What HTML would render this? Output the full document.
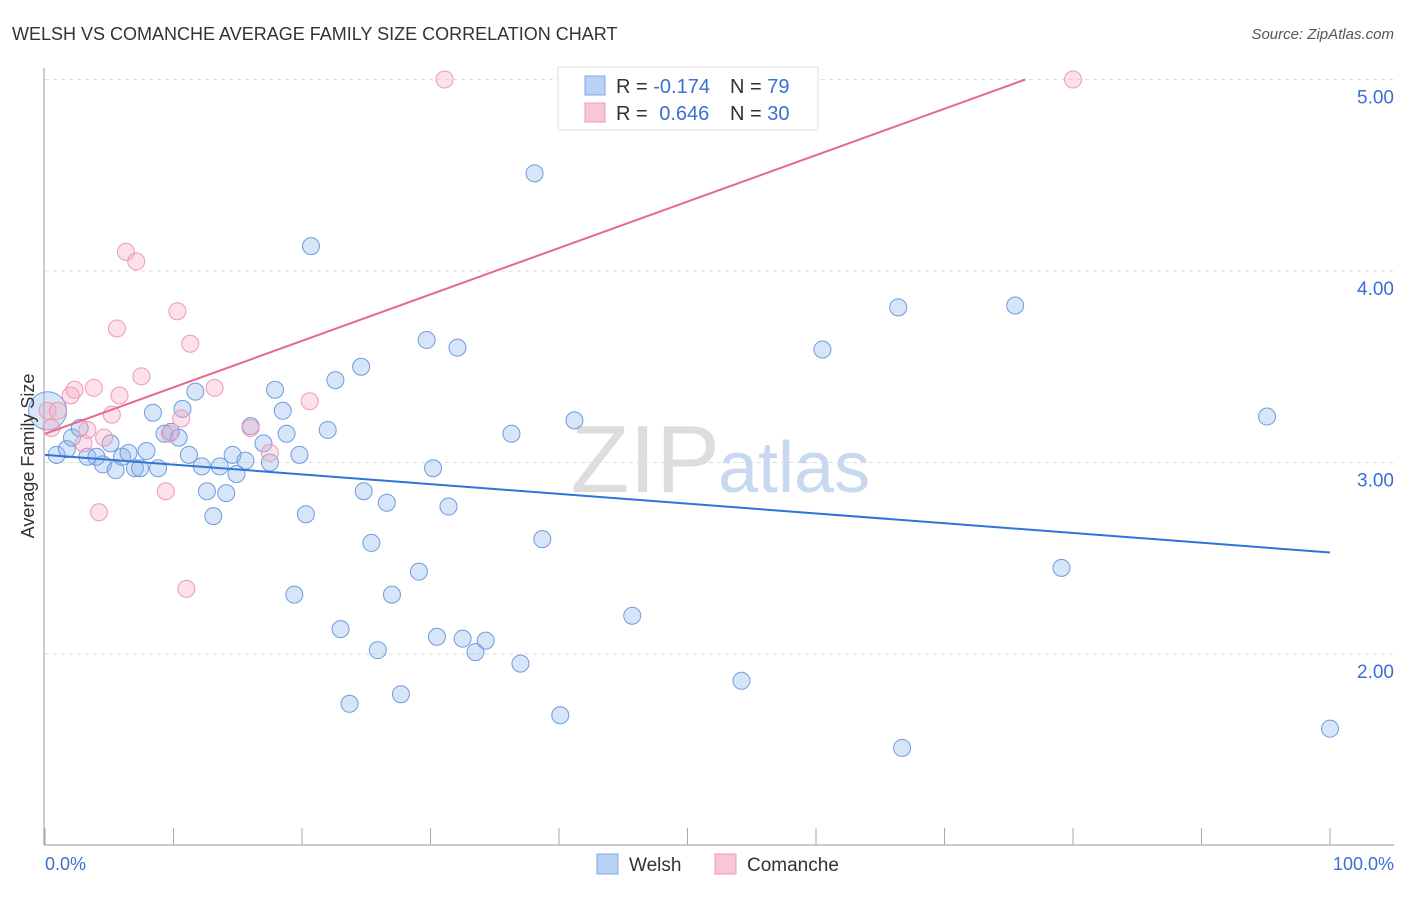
<!DOCTYPE html>
<html><head><meta charset="utf-8"><style>
body{margin:0;background:#fff;font-family:"Liberation Sans",sans-serif}
svg text{font-family:"Liberation Sans",sans-serif}
</style></head><body>
<svg id="chart" width="1406" height="892">
<text x="12" y="40" font-size="18" fill="#333">WELSH VS COMANCHE AVERAGE FAMILY SIZE CORRELATION CHART</text>
<text x="1394" y="39" font-size="15" fill="#555" font-style="italic" text-anchor="end">Source: ZipAtlas.com</text>
<g id="grid"></g>
<text x="720" y="492" font-size="96" font-family="Liberation Serif" fill="#ddd" text-anchor="end">ZIP</text>
<text x="718" y="492" font-size="72" fill="#c8d8ef">atlas</text>
<g id="axes"></g>
<g id="pts"></g>
<g id="trends"></g>
<text transform="translate(34,456) rotate(-90)" font-size="18" fill="#333" text-anchor="middle">Average Family Size</text>
<text x="45" y="870" font-size="18" fill="#3b6fd4">0.0%</text>
<text x="1394" y="870" font-size="18" fill="#3b6fd4" text-anchor="end">100.0%</text>
<g>
<rect x="558" y="67" width="260" height="63" fill="#fff" stroke="#ddd"/>
<rect x="585" y="76" width="20" height="19" fill="#b9d1f5" stroke="#7fa8e8"/>
<rect x="585" y="103" width="20" height="19" fill="#f9c6d4" stroke="#ef9ab3"/>
<text x="616" y="93" font-size="20" fill="#333">R = <tspan fill="#3b6fd4">-0.174</tspan></text>
<text x="730" y="93" font-size="20" fill="#333">N = <tspan fill="#3b6fd4">79</tspan></text>
<text x="616" y="120" font-size="20" fill="#333">R = <tspan fill="#3b6fd4" dx="6">0.646</tspan></text>
<text x="730" y="120" font-size="20" fill="#333">N = <tspan fill="#3b6fd4">30</tspan></text>
</g>
<g>
<rect x="597" y="854" width="21" height="20" fill="#b9d1f5" stroke="#7fa8e8"/>
<text x="629" y="871" font-size="19" fill="#333">Welsh</text>
<rect x="715" y="854" width="21" height="20" fill="#f9c6d4" stroke="#ef9ab3"/>
<text x="747" y="871" font-size="19" fill="#333">Comanche</text>
</g>
</svg>
<script>
const welshX=[0.2,0.9,1.7,2.1,2.7,3.3,4.0,4.5,5.1,5.5,6.0,6.5,7.0,7.4,7.9,8.4,8.8,9.3,9.8,10.4,10.7,11.2,11.7,12.2,12.6,13.1,13.6,14.1,14.6,14.9,15.6,16.0,17.0,17.5,17.9,18.5,18.8,19.4,19.8,20.3,20.7,22.0,22.6,23.0,23.7,24.6,24.8,25.4,25.9,26.6,27.0,27.7,29.1,29.7,30.2,30.5,31.4,32.1,32.5,33.5,34.3,36.3,37.0,38.1,38.7,40.1,41.2,45.7,47.5,54.2,60.5,66.4,66.7,75.5,79.1,95.1,100];
const welshY=[3.27,3.04,3.07,3.13,3.18,3.03,3.03,2.99,3.10,2.96,3.03,3.05,2.97,2.97,3.06,3.26,2.97,3.15,3.16,3.13,3.28,3.04,3.37,2.98,2.85,2.72,2.98,2.84,3.04,2.94,3.01,3.19,3.10,3.00,3.38,3.27,3.15,2.31,3.04,2.73,4.13,3.17,3.43,2.13,1.74,3.50,2.85,2.58,2.02,2.79,2.31,1.79,2.43,3.64,2.97,2.09,2.77,3.60,2.08,2.01,2.07,3.15,1.95,4.51,2.60,1.68,3.22,2.20,5.00,1.86,3.59,3.81,1.51,3.82,2.45,3.24,1.61];
const comX=[0.2,0.5,1.0,2.0,2.3,3.0,3.3,3.8,4.2,4.6,5.2,5.6,5.8,6.3,7.1,7.5,9.4,9.7,10.3,10.6,11.0,11.3,13.2,16.0,17.5,20.6,31.1,80.0];
const comY=[3.27,3.18,3.27,3.35,3.38,3.10,3.17,3.39,2.74,3.13,3.25,3.70,3.35,4.10,4.05,3.45,2.85,3.15,3.79,3.23,2.34,3.62,3.39,3.18,3.05,3.32,5.00,5.00];
const welshTrend=[3.04,2.53];      // y at x=0 and x=100
const comTrend=[3.15,0.02425];     // intercept, slope per %
const yTicks=[2,3,4,5];
const xTicks=[0,10,20,30,40,50,60,70,80,90,100];
const NS="http://www.w3.org/2000/svg";
const sx=v=>45+v*12.85, sy=v=>462.5-(v-3)*191.5;
function mk(t,a,p){const e=document.createElementNS(NS,t);for(const k in a)e.setAttribute(k,a[k]);p.appendChild(e);return e;}
const grid=document.getElementById('grid'),axes=document.getElementById('axes'),pts=document.getElementById('pts'),tr=document.getElementById('trends');
yTicks.forEach(v=>{
 const l=mk('line',{x1:45,x2:1394,y1:sy(v),y2:sy(v),stroke:'#ddd','stroke-dasharray':'4,4'},grid);
 
 
 const t=mk('text',{x:1394,y:sy(v)+24,'font-size':19,fill:'#3b6fd4','text-anchor':'end'},grid);
 t.textContent=v.toFixed(2);
 
 
});
const ya=mk('line',{x1:44,x2:44,y1:68,y2:845,stroke:'#999'},axes);


const xa=mk('line',{x1:44,x2:1394,y1:845,y2:845,stroke:'#999'},axes);


xTicks.forEach(v=>{
 const l=mk('line',{x1:sx(v),x2:sx(v),y1:828,y2:845,stroke:'#aaa'},axes);
 
 
});
welshX.forEach((x,i)=>{
 const c=mk('circle',{cx:sx(x),cy:sy(welshY[i]),r:i==0?19:8.5,fill:'rgba(140,180,235,0.35)',stroke:'#6f9be0','stroke-width':1},pts);
 
 
});
comX.forEach((x,i)=>{
 const c=mk('circle',{cx:sx(x),cy:sy(comY[i]),r:8.5,fill:'rgba(245,170,195,0.35)',stroke:'#ee9ab5','stroke-width':1},pts);
 
 
});
const bl=mk('line',{x1:sx(0),y1:sy(welshTrend[0]),x2:sx(100),y2:sy(welshTrend[1]),stroke:'#2f74d8','stroke-width':2},tr);


const xEnd=(5-comTrend[0])/comTrend[1];
const pl=mk('line',{x1:sx(0),y1:sy(comTrend[0]),x2:sx(xEnd),y2:sy(5),stroke:'#e8678f','stroke-width':2},tr);


</script>
</body></html>
